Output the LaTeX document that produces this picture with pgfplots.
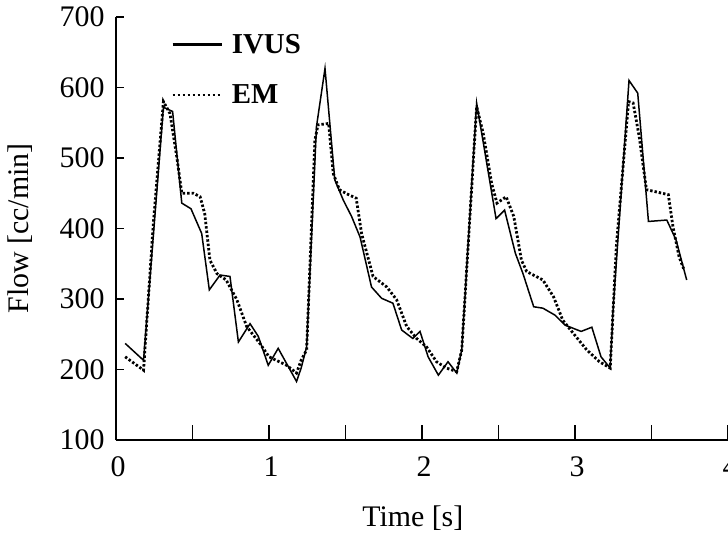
\documentclass[border=0pt]{standalone}
\usepackage{fontspec}
\setmainfont{Liberation Serif}
\usepackage{pgfplots}
\pgfplotsset{compat=1.18}
\begin{document}
\begin{tikzpicture}
\begin{axis}[
  at={(0,0)}, anchor=south west,
  scale only axis, width=612bp, height=423bp,
  xmin=0, xmax=4, ymin=100, ymax=700,
  axis x line=bottom, axis y line=left,
  axis line style={-, line width=1.4bp},
  xtick={0,0.5,...,4}, xticklabels={0,,1,,2,,3,,4},
  ytick={100,200,...,700},
  tick align=inside,
  major tick length=15bp,
  ytick style={/pgfplots/major tick length=8bp},
  tick style={line width=1.2bp, black},
  /pgf/number format/assume math mode=true,
  tick label style={font=\fontsize{30}{33}\selectfont},
  xticklabel style={yshift=-13bp, xshift=2bp},
  yticklabel style={xshift=-8bp},
  every axis x label/.style={at={(axis description cs:0.485,0)}, yshift=-78bp, anchor=center, font=\fontsize{30}{33}\selectfont},
  every axis y label/.style={at={(axis description cs:0,0.5)}, xshift=-96bp, rotate=90, anchor=center, font=\fontsize{30}{33}\selectfont},
  xlabel={Time [s]}, ylabel={Flow [cc/min]},
  legend style={draw=none, fill=none, at={(axis description cs:0.09,0.965)}, anchor=north west, font=\fontsize{29}{32}\selectfont\bfseries, row sep=26bp, inner sep=0pt, cells={anchor=west}},
  legend image code/.code={\draw[#1] (0bp,0bp) -- (49bp,0bp); \path (56bp,0bp);},
]
\addplot[black, line width=1.5bp, legend image post style={line width=2.6bp}] coordinates {
(0.06,237) (0.18,213) (0.31,572) (0.37,566) (0.43,436) (0.49,428) (0.56,393) (0.61,313) (0.68,334) (0.745,332) (0.80,239) (0.876,265) (0.93,247) (0.995,206) (1.06,230) (1.18,183) (1.21,202) (1.246,232) (1.31,544) (1.366,627) (1.43,469) (1.486,440) (1.54,417) (1.595,388) (1.67,317) (1.736,301) (1.81,294) (1.867,256) (1.94,244) (1.987,254) (2.04,218) (2.107,192) (2.17,211) (2.227,195) (2.26,228) (2.357,578) (2.484,414) (2.54,426) (2.61,365) (2.66,336) (2.73,289) (2.79,287) (2.87,277) (2.935,263) (3.04,254) (3.11,260) (3.17,218) (3.23,202) (3.25,289) (3.353,610) (3.41,592) (3.48,410) (3.6,412) (3.66,384) (3.73,327)
};
\addlegendentry{IVUS}
\addplot[black, line width=2.8bp, dash pattern=on 2.4bp off 2bp, legend image post style={line width=1.8bp, dash pattern=on 2.5bp off 2.5bp}] coordinates {
(0.06,218) (0.18,199) (0.244,407) (0.31,580) (0.353,563) (0.397,502) (0.43,450) (0.505,450) (0.55,445) (0.58,421) (0.614,355) (0.66,336) (0.72,327) (0.79,299) (0.854,261) (0.94,237) (1.0,218) (1.115,206) (1.18,195) (1.21,213) (1.246,228) (1.30,525) (1.32,547) (1.39,549) (1.42,478) (1.46,455) (1.52,448) (1.57,443) (1.605,393) (1.68,332) (1.77,317) (1.834,299) (1.90,261) (1.965,244) (2.03,232) (2.095,211) (2.16,202) (2.227,197) (2.26,228) (2.357,573) (2.40,535) (2.455,464) (2.49,436) (2.55,445) (2.60,417) (2.65,355) (2.684,339) (2.79,327) (2.86,303) (2.92,270) (2.99,251) (3.076,228) (3.16,211) (3.23,202) (3.27,374) (3.35,580) (3.38,578) (3.42,530) (3.467,455) (3.53,452) (3.61,448) (3.64,403) (3.68,360) (3.71,343)
};
\addlegendentry{EM}
\end{axis}
\pgfresetboundingbox
\useasboundingbox (-116bp,-96bp) rectangle (612bp,440bp);
\end{tikzpicture}
\end{document}
